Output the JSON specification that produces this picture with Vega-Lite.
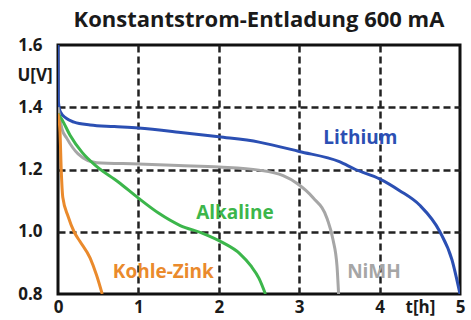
{
  "$schema": "https://vega.github.io/schema/vega-lite/v6.json",
  "width": 402,
  "height": 249,
  "autosize": "none",
  "padding": {"left": 58, "top": 45, "right": 11, "bottom": 26},
  "background": "#ffffff",
  "title": {"text": "Konstantstrom-Entladung 600 mA", "font": "Open Sans", "fontSize": 22, "fontWeight": "bold", "color": "#1a1a1a", "anchor": "middle", "frame": "group", "baseline": "alphabetic", "offset": 15, "dy": 28},
  "config": {
    "view": {"stroke": "#111111", "strokeWidth": 3},
    "axis": {"labelFont": "Open Sans", "labelFontWeight": "bold", "labelFontSize": 17, "labelColor": "#1a1a1a", "titleFont": "Open Sans", "titleFontWeight": "bold", "titleFontSize": 17, "titleColor": "#1a1a1a", "tickSize": 0, "domain": false, "gridColor": "#222222", "gridWidth": 2.5, "gridDash": [7, 4]}
  },
  "datasets": {
    "curves": [
      {"series": "Lithium", "t": 0, "v": 1.6},
      {"series": "Lithium", "t": 0.004, "v": 1.42},
      {"series": "Lithium", "t": 0.03, "v": 1.385},
      {"series": "Lithium", "t": 0.1, "v": 1.365},
      {"series": "Lithium", "t": 0.2, "v": 1.352},
      {"series": "Lithium", "t": 0.4, "v": 1.343},
      {"series": "Lithium", "t": 0.7, "v": 1.338},
      {"series": "Lithium", "t": 1, "v": 1.333},
      {"series": "Lithium", "t": 1.5, "v": 1.32},
      {"series": "Lithium", "t": 2, "v": 1.305},
      {"series": "Lithium", "t": 2.5, "v": 1.288},
      {"series": "Lithium", "t": 3, "v": 1.258},
      {"series": "Lithium", "t": 3.5, "v": 1.225},
      {"series": "Lithium", "t": 3.7, "v": 1.2},
      {"series": "Lithium", "t": 4, "v": 1.17},
      {"series": "Lithium", "t": 4.25, "v": 1.132},
      {"series": "Lithium", "t": 4.5, "v": 1.085},
      {"series": "Lithium", "t": 4.75, "v": 1.0},
      {"series": "Lithium", "t": 4.9, "v": 0.91},
      {"series": "Lithium", "t": 5, "v": 0.8},
      {"series": "NiMH", "t": 0, "v": 1.4},
      {"series": "NiMH", "t": 0.05, "v": 1.33},
      {"series": "NiMH", "t": 0.11, "v": 1.3},
      {"series": "NiMH", "t": 0.25, "v": 1.25},
      {"series": "NiMH", "t": 0.48, "v": 1.222},
      {"series": "NiMH", "t": 1, "v": 1.218},
      {"series": "NiMH", "t": 1.5, "v": 1.213},
      {"series": "NiMH", "t": 2, "v": 1.208},
      {"series": "NiMH", "t": 2.5, "v": 1.198},
      {"series": "NiMH", "t": 2.8, "v": 1.18},
      {"series": "NiMH", "t": 2.97, "v": 1.156},
      {"series": "NiMH", "t": 3.17, "v": 1.11},
      {"series": "NiMH", "t": 3.35, "v": 1.04},
      {"series": "NiMH", "t": 3.42, "v": 0.975},
      {"series": "NiMH", "t": 3.47, "v": 0.89},
      {"series": "NiMH", "t": 3.49, "v": 0.8},
      {"series": "Alkaline", "t": 0, "v": 1.38},
      {"series": "Alkaline", "t": 0.05, "v": 1.36},
      {"series": "Alkaline", "t": 0.15, "v": 1.31},
      {"series": "Alkaline", "t": 0.3, "v": 1.255},
      {"series": "Alkaline", "t": 0.48, "v": 1.21},
      {"series": "Alkaline", "t": 0.75, "v": 1.16},
      {"series": "Alkaline", "t": 1, "v": 1.108},
      {"series": "Alkaline", "t": 1.25, "v": 1.06},
      {"series": "Alkaline", "t": 1.52, "v": 1.02},
      {"series": "Alkaline", "t": 1.8, "v": 0.995},
      {"series": "Alkaline", "t": 2.05, "v": 0.965},
      {"series": "Alkaline", "t": 2.26, "v": 0.93},
      {"series": "Alkaline", "t": 2.4, "v": 0.89},
      {"series": "Alkaline", "t": 2.5, "v": 0.85},
      {"series": "Alkaline", "t": 2.58, "v": 0.8},
      {"series": "Kohle-Zink", "t": 0, "v": 1.38},
      {"series": "Kohle-Zink", "t": 0.012, "v": 1.36},
      {"series": "Kohle-Zink", "t": 0.025, "v": 1.32},
      {"series": "Kohle-Zink", "t": 0.04, "v": 1.2},
      {"series": "Kohle-Zink", "t": 0.06, "v": 1.11},
      {"series": "Kohle-Zink", "t": 0.125, "v": 1.05},
      {"series": "Kohle-Zink", "t": 0.2, "v": 1.0},
      {"series": "Kohle-Zink", "t": 0.27, "v": 0.97},
      {"series": "Kohle-Zink", "t": 0.4, "v": 0.915},
      {"series": "Kohle-Zink", "t": 0.48, "v": 0.86},
      {"series": "Kohle-Zink", "t": 0.55, "v": 0.8}
    ],
    "labels": [
      {"series": "Lithium", "t": 3.76, "v": 1.3},
      {"series": "Alkaline", "t": 2.2, "v": 1.06},
      {"series": "Kohle-Zink", "t": 1.31, "v": 0.87},
      {"series": "NiMH", "t": 3.93, "v": 0.87}
    ]
  },
  "encoding": {
    "x": {"field": "t", "type": "quantitative", "scale": {"domain": [0, 5], "nice": false, "zero": false},
      "axis": {"values": [0, 1, 2, 3, 4, 5], "labelPadding": 5, "labelFlush": false, "labelOverlap": false, "grid": true,
        "gridOpacity": {"condition": {"test": "datum.value == 0 || datum.value == 5", "value": 0}, "value": 1},
        "title": "t[h]", "titleX": 362, "titleY": 5, "titleBaseline": "top", "titleAlign": "center"}},
    "y": {"field": "v", "type": "quantitative", "scale": {"domain": [0.8, 1.6], "nice": false, "zero": false},
      "axis": {"values": [0.8, 1.0, 1.2, 1.4, 1.6], "format": ".1f", "labelPadding": 16, "labelFlush": false, "labelOverlap": false, "grid": true,
        "gridOpacity": {"condition": {"test": "datum.value < 0.85 || datum.value > 1.55", "value": 0}, "value": 1},
        "title": "U[V]", "titleAngle": 0, "titleX": -41, "titleY": 30, "titleAlign": "left", "titleBaseline": "middle"}}
  },
  "layer": [
    {
      "data": {"name": "curves"},
      "mark": {"type": "line", "interpolate": "monotone", "strokeWidth": 3, "clip": true},
      "encoding": {
        "color": {"field": "series", "type": "nominal", "legend": null,
          "scale": {"domain": ["Lithium", "NiMH", "Alkaline", "Kohle-Zink"], "range": ["#2b4fb3", "#a6a6a6", "#3cb64b", "#ea8a2c"]}},
        "detail": {"field": "series"}
      }
    },
    {
      "data": {"name": "labels"},
      "mark": {"type": "text", "font": "Open Sans", "fontWeight": "bold", "fontSize": 19, "align": "center", "baseline": "middle"},
      "encoding": {
        "text": {"field": "series"},
        "color": {"field": "series", "type": "nominal", "legend": null,
          "scale": {"domain": ["Lithium", "NiMH", "Alkaline", "Kohle-Zink"], "range": ["#2b4fb3", "#a6a6a6", "#3cb64b", "#ea8a2c"]}}
      }
    }
  ]
}
